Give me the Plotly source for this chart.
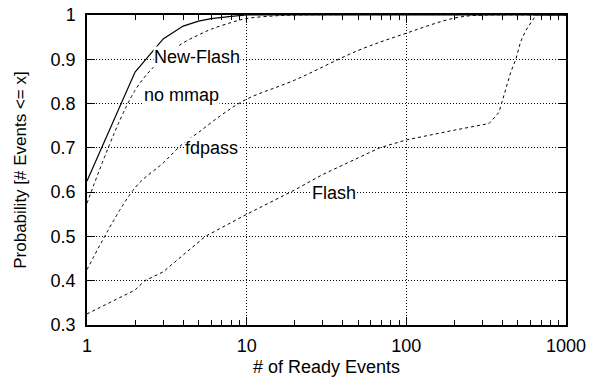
import math
import plotly.graph_objects as go

newflash_x = [1, 2, 3, 4, 5, 6, 8, 10, 20, 1000]
newflash_y = [0.625, 0.871, 0.946, 0.975, 0.986, 0.992, 0.997, 1.0, 1.0, 1.0]

nommap_x = [1, 2, 3, 4, 5, 6, 8, 10, 15, 20, 1000]
nommap_y = [0.575, 0.83, 0.903, 0.937, 0.955, 0.968, 0.983, 0.992, 0.998, 1.0, 1.0]

fdpass_x = [1, 2, 3, 4, 5, 7, 10, 20, 50, 100, 200, 300, 1000]
fdpass_y = [0.425, 0.61, 0.666, 0.71, 0.735, 0.775, 0.81, 0.853, 0.92, 0.959, 0.993, 1.0, 1.0]

flash_x = [1, 2, 2.3, 3, 5.5, 10, 20, 30, 68, 100, 200, 330, 380, 420, 450, 485, 520, 560, 650, 1000]
flash_y = [0.325, 0.379, 0.4, 0.42, 0.5, 0.55, 0.605, 0.64, 0.70, 0.718, 0.74, 0.755, 0.78, 0.83, 0.87, 0.90, 0.94, 0.965, 1.0, 1.0]

labels = ["New-Flash", "no mmap", "fdpass", "Flash"]
label_x = [4.87, 3.92, 6.05, 35]
label_y = [0.905, 0.819, 0.70, 0.598]

xticks = [1, 10, 100, 1000]
yticks = [0.3, 0.4, 0.5, 0.6, 0.7, 0.8, 0.9, 1.0]
ytick_text = ["0.3", "0.4", "0.5", "0.6", "0.7", "0.8", "0.9", "1"]
minor_x = [m * d for d in (1, 10, 100) for m in range(2, 10)]

FONT = "Liberation Sans, Arial, Helvetica"
FS = 18

fig = go.Figure()
fig.add_trace(go.Scatter(x=newflash_x, y=newflash_y, mode="lines",
                         line=dict(color="black", width=1.2), name="New-Flash"))
fig.add_trace(go.Scatter(x=nommap_x, y=nommap_y, mode="lines", line_shape="spline",
                         line=dict(color="black", width=1, dash="3px,3px"), name="no mmap"))
fig.add_trace(go.Scatter(x=fdpass_x, y=fdpass_y, mode="lines", line_shape="spline",
                         line=dict(color="black", width=1, dash="3px,3px"), name="fdpass"))
fig.add_trace(go.Scatter(x=flash_x, y=flash_y, mode="lines",
                         line=dict(color="black", width=1, dash="3px,3px"), name="Flash"))
# invisible trace to carry the minor-tick axis
fig.add_trace(go.Scatter(x=[1, 1000], y=[0.3, 0.3], mode="lines", xaxis="x2",
                         line=dict(width=0), hoverinfo="skip", showlegend=False))

for t, lx, ly in zip(labels, label_x, label_y):
    fig.add_annotation(x=math.log10(lx), y=ly, text=t, showarrow=False, xref="x", yref="y",
                       font=dict(family=FONT, size=FS, color="black"),
                       bgcolor="white", borderpad=0)

fig.update_layout(
    width=590, height=377,
    margin=dict(l=87, r=24, t=15, b=52),
    paper_bgcolor="white", plot_bgcolor="white",
    showlegend=False,
    font=dict(family=FONT, size=FS, color="black"),
    xaxis2=dict(type="log", range=[0, 3], overlaying="x", side="bottom",
                tickvals=minor_x, ticks="inside", ticklen=5, tickcolor="black", tickwidth=1.2,
                showticklabels=False, showgrid=False, zeroline=False, mirror="ticks",
                showline=False),
    xaxis=dict(
        type="log", range=[0, 3],
        tickvals=xticks, ticktext=[str(v) for v in xticks],
        ticks="inside", ticklen=8, tickcolor="black", tickwidth=1.2,
        showline=True, linecolor="black", linewidth=1.5, mirror="ticks",
        showgrid=True, gridcolor="black", gridwidth=1, griddash="1px,2px",
        title=dict(text="# of Ready Events", font=dict(size=FS), standoff=5),
        tickfont=dict(size=FS), zeroline=False, ticklabelstandoff=4, automargin=False,
    ),
    yaxis=dict(
        range=[0.3, 1.0],
        tickvals=yticks, ticktext=ytick_text,
        ticks="inside", ticklen=8, tickcolor="black", tickwidth=1.2,
        showline=True, linecolor="black", linewidth=1.5, mirror="ticks",
        showgrid=True, gridcolor="black", gridwidth=1, griddash="1px,2px",
        title=dict(text="Probability [# Events <= x]", font=dict(size=FS - 1), standoff=20),
        tickfont=dict(size=FS), zeroline=False, ticklabelstandoff=6, automargin=False,
    ),
)

fig.write_html("out.html")
